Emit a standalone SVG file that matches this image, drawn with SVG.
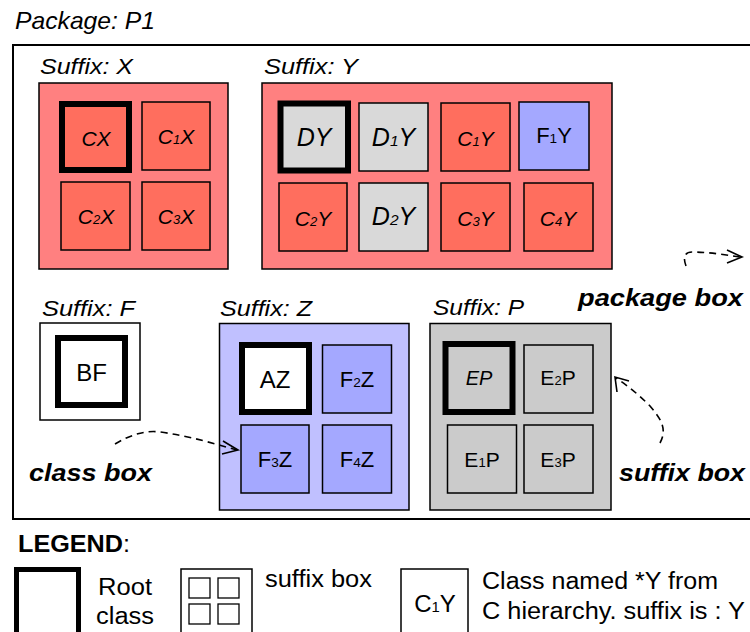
<svg xmlns="http://www.w3.org/2000/svg" width="750" height="632" viewBox="0 0 750 632">
<defs>
<style>
text{font-family:"Liberation Sans",Arial,sans-serif;fill:#000}
.lbl{font-size:22px;font-style:italic}
.note{font-size:24px;font-style:italic;font-weight:bold}
.box{stroke:#000;stroke-width:1.5}
.root{stroke:#000;stroke-width:6}
.redo{fill:#ff8080}
.red{fill:#ff6e5e}
.gray{fill:#d9d9d9}
.blue{fill:#a4a8ff}
.bluo{fill:#c0c0ff}
.pg{fill:#cbcbcb}
.wh{fill:#fff}
.t{text-anchor:middle;font-size:21px}
.ti{text-anchor:middle;font-size:21px;font-style:italic}
.s{font-size:0.62em}
.lg{font-size:23px}
.conn{fill:none;stroke:#000;stroke-width:1.6;stroke-dasharray:7 5}
.head{fill:none;stroke:#000;stroke-width:1.6}
</style>
</defs>
<rect width="750" height="632" fill="#fff"/>

<g id="package">
<text x="15" y="29" style="font-size:24px;font-style:italic" textLength="140" lengthAdjust="spacingAndGlyphs">Package: P1</text>
<rect x="13" y="45" width="760" height="474" fill="#fff" stroke="#000" stroke-width="2"/>
</g>

<g id="suffixX">
<text class="lbl" x="40" y="74" textLength="93" lengthAdjust="spacingAndGlyphs">Suffix: X</text>
<rect class="box redo" x="39" y="83" width="189" height="186"/>
</g>
<g id="CX"><rect class="root red" x="62" y="104" width="67" height="66"/><text class="ti" x="96" y="146">CX</text></g>
<g id="C1X"><rect class="box red" x="142" y="102" width="68" height="68"/><text class="ti" x="176" y="144">C<tspan class="s">1</tspan>X</text></g>
<g id="C2X"><rect class="box red" x="61" y="182" width="69" height="68"/><text class="ti" x="96" y="224">C<tspan class="s">2</tspan>X</text></g>
<g id="C3X"><rect class="box red" x="142" y="182" width="68" height="68"/><text class="ti" x="176" y="224">C<tspan class="s">3</tspan>X</text></g>

<g id="suffixY">
<text class="lbl" x="264" y="74" textLength="94" lengthAdjust="spacingAndGlyphs">Suffix: Y</text>
<rect class="box redo" x="262" y="83" width="350" height="186"/>
</g>
<g id="DY"><rect class="root gray" x="280.5" y="103.5" width="67.5" height="67"/><text class="ti" x="314" y="146" style="font-size:25px">DY</text></g>
<g id="D1Y"><rect class="box gray" x="359" y="103" width="69" height="68"/><text class="ti" x="393.5" y="146" style="font-size:25px">D<tspan class="s">1</tspan>Y</text></g>
<g id="C1Y"><rect class="box red" x="441" y="103" width="69" height="68"/><text class="ti" x="475.5" y="146">C<tspan class="s">1</tspan>Y</text></g>
<g id="F1Y"><rect class="box blue" x="519" y="102" width="70" height="68"/><text class="t" x="554" y="143" style="font-size:22px">F<tspan class="s">1</tspan>Y</text></g>
<g id="C2Y"><rect class="box red" x="279" y="183" width="68" height="68"/><text class="ti" x="313" y="226">C<tspan class="s">2</tspan>Y</text></g>
<g id="D2Y"><rect class="box gray" x="359" y="183" width="69" height="68"/><text class="ti" x="393.5" y="225" style="font-size:25px">D<tspan class="s">2</tspan>Y</text></g>
<g id="C3Y"><rect class="box red" x="441" y="183" width="69" height="68"/><text class="ti" x="475.5" y="226">C<tspan class="s">3</tspan>Y</text></g>
<g id="C4Y"><rect class="box red" x="524" y="183" width="69" height="68"/><text class="ti" x="558" y="226">C<tspan class="s">4</tspan>Y</text></g>

<g id="suffixF">
<text class="lbl" x="42" y="316" textLength="93" lengthAdjust="spacingAndGlyphs">Suffix: F</text>
<rect class="box wh" x="40" y="323" width="100" height="97"/>
</g>
<g id="BF"><rect class="root wh" x="58" y="338" width="67" height="67"/><text class="t" x="91.5" y="381" style="font-size:24px">BF</text></g>

<g id="suffixZ">
<text class="lbl" x="220" y="316" textLength="92" lengthAdjust="spacingAndGlyphs">Suffix: Z</text>
<rect class="box bluo" x="219.5" y="323.5" width="189.5" height="186.5"/>
</g>
<g id="AZ"><rect class="root wh" x="242" y="345" width="67" height="67"/><text class="t" x="275" y="388" style="font-size:24px">AZ</text></g>
<g id="F2Z"><rect class="box blue" x="322.5" y="345" width="69" height="68"/><text class="t" x="357" y="387" style="font-size:22px">F<tspan class="s">2</tspan>Z</text></g>
<g id="F3Z"><rect class="box blue" x="241" y="425" width="68" height="68"/><text class="t" x="275" y="467" style="font-size:22px">F<tspan class="s">3</tspan>Z</text></g>
<g id="F4Z"><rect class="box blue" x="322.5" y="425" width="69" height="68"/><text class="t" x="357" y="467" style="font-size:22px">F<tspan class="s">4</tspan>Z</text></g>

<g id="suffixP">
<text class="lbl" x="433" y="315" textLength="91" lengthAdjust="spacingAndGlyphs">Suffix: P</text>
<rect class="box pg" x="430" y="323.5" width="181" height="186.5"/>
</g>
<g id="EP"><rect class="root pg" x="445.5" y="344" width="67" height="68"/><text class="ti" x="479" y="385" style="font-size:20px">EP</text></g>
<g id="E2P"><rect class="box pg" x="524" y="345" width="69" height="68"/><text class="t" x="558" y="385" style="font-size:21px">E<tspan class="s">2</tspan>P</text></g>
<g id="E1P"><rect class="box pg" x="447.5" y="425" width="69" height="68"/><text class="t" x="482" y="467" style="font-size:21px">E<tspan class="s">1</tspan>P</text></g>
<g id="E3P"><rect class="box pg" x="524" y="425" width="69" height="68"/><text class="t" x="558" y="467" style="font-size:21px">E<tspan class="s">3</tspan>P</text></g>

<g id="notes">
<text class="note" x="578" y="306" textLength="165" lengthAdjust="spacingAndGlyphs">package box</text>
<text class="note" x="619" y="481" textLength="126" lengthAdjust="spacingAndGlyphs">suffix box</text>
<text class="note" x="29" y="481" textLength="123" lengthAdjust="spacingAndGlyphs">class box</text>
</g>

<g id="connectors">
<path class="conn" d="M686,266 C683,258 684,252 692,252 C710,252 725,255 740,257"/>
<path class="head" d="M727,250 L742,257 L727,263"/>
<path class="conn" d="M660,443 C668,428 660,418 650,406 C638,394 628,386 616,378"/>
<path class="head" d="M617,392 L615,377 L629,381"/>
<path class="conn" d="M115,444 C130,435 145,430 160,432 C190,436 215,444 237,450"/>
<path class="head" d="M223,441 L238,450 L222,454"/>
</g>

<g id="legend">
<text x="18" y="552" style="font-size:23px;font-weight:bold" textLength="112" lengthAdjust="spacingAndGlyphs">LEGEND<tspan style="font-weight:normal">:</tspan></text>
<rect x="16.5" y="569.5" width="62" height="80" fill="#fff" stroke="#000" stroke-width="5"/>
<text class="lg" x="98" y="595" textLength="54" lengthAdjust="spacingAndGlyphs">Root</text>
<text class="lg" x="96" y="624" textLength="58" lengthAdjust="spacingAndGlyphs">class</text>
<rect x="181" y="569" width="71" height="80" fill="#fff" stroke="#000" stroke-width="1.5"/>
<rect x="189" y="578" width="21" height="20" fill="none" stroke="#000" stroke-width="1.3"/>
<rect x="218" y="578" width="21" height="20" fill="none" stroke="#000" stroke-width="1.3"/>
<rect x="189" y="604" width="21" height="20" fill="none" stroke="#000" stroke-width="1.3"/>
<rect x="218" y="604" width="21" height="20" fill="none" stroke="#000" stroke-width="1.3"/>
<text class="lg" x="265" y="587" textLength="107" lengthAdjust="spacingAndGlyphs">suffix box</text>
<rect x="401" y="569" width="67" height="80" fill="#fff" stroke="#000" stroke-width="1.5"/>
<text x="435" y="612" text-anchor="middle" style="font-size:24px">C<tspan class="s">1</tspan>Y</text>
<text class="lg" x="482" y="589" textLength="236" lengthAdjust="spacingAndGlyphs">Class named *Y from</text>
<text class="lg" x="482" y="619" textLength="263" lengthAdjust="spacingAndGlyphs">C hierarchy. suffix is : Y</text>
</g>
</svg>
